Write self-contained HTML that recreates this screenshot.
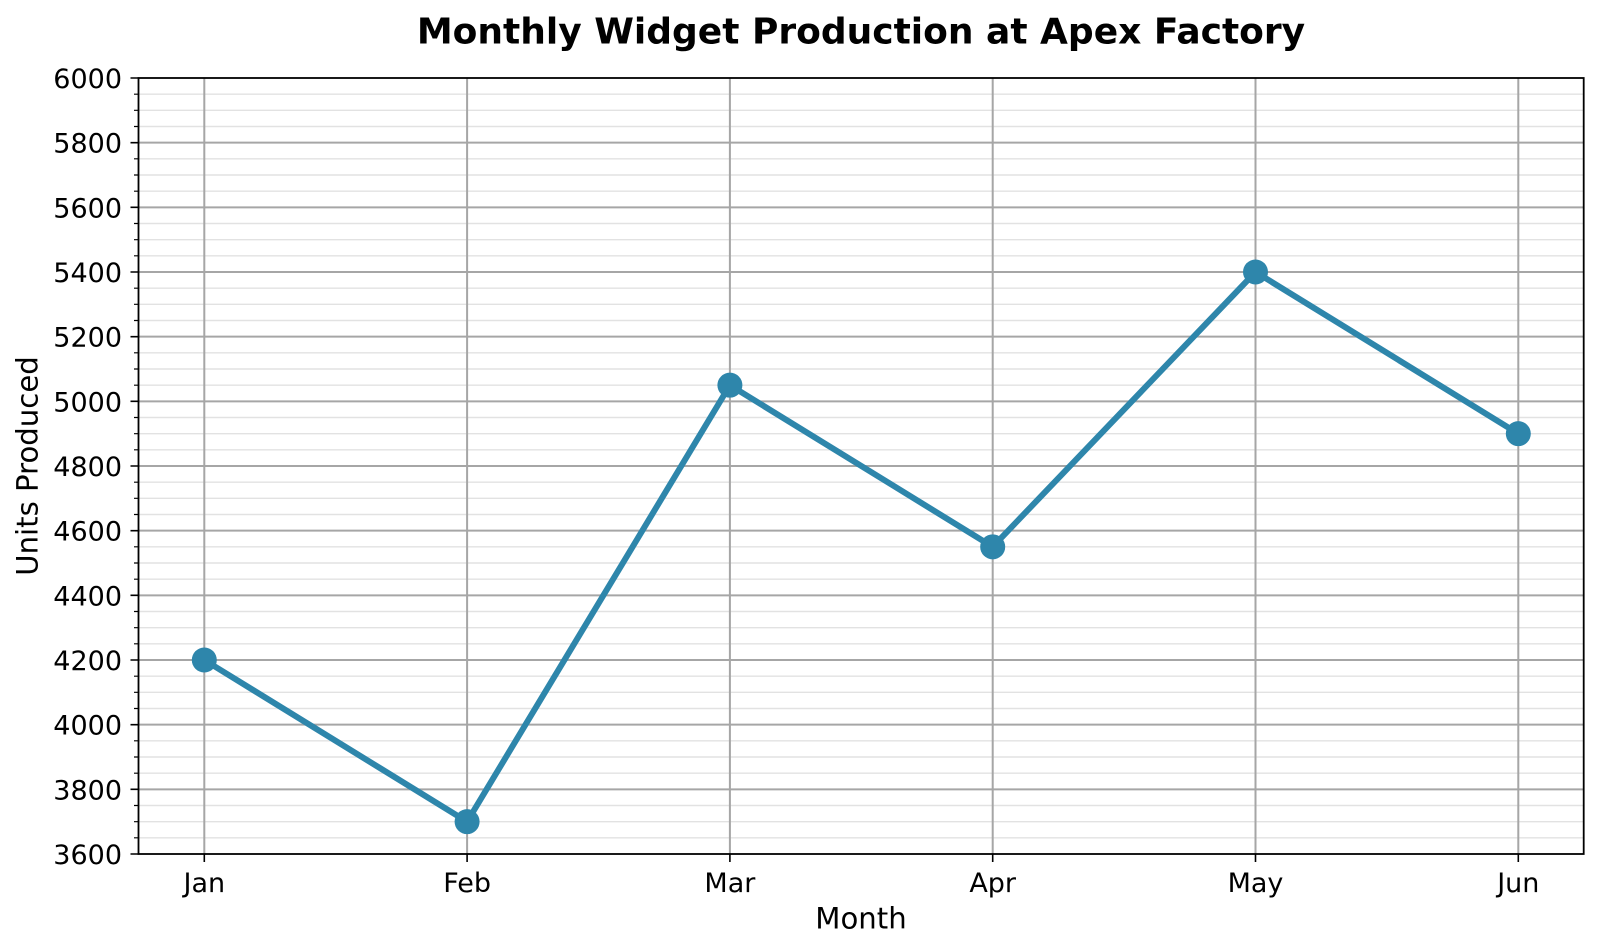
<!DOCTYPE html>
<html><head><meta charset="utf-8"><style>
html,body{margin:0;padding:0;background:#fff;}
svg{display:block;font-family:"DejaVu Sans","Liberation Sans",sans-serif;}
</style></head><body>
<svg width="1600" height="950" viewBox="0 0 1600 950" xmlns="http://www.w3.org/2000/svg">
<rect width="1600" height="950" fill="#fff"/>
<!-- minor grid -->
<path fill="none" stroke="#e2e2e2" stroke-width="1.4" d="M138.5 837.83H1583.7M138.5 821.67H1583.7M138.5 805.5H1583.7M138.5 773.17H1583.7M138.5 757H1583.7M138.5 740.83H1583.7M138.5 708.5H1583.7M138.5 692.33H1583.7M138.5 676.17H1583.7M138.5 643.83H1583.7M138.5 627.67H1583.7M138.5 611.5H1583.7M138.5 579.17H1583.7M138.5 563H1583.7M138.5 546.83H1583.7M138.5 514.5H1583.7M138.5 498.33H1583.7M138.5 482.17H1583.7M138.5 449.83H1583.7M138.5 433.67H1583.7M138.5 417.5H1583.7M138.5 385.17H1583.7M138.5 369H1583.7M138.5 352.83H1583.7M138.5 320.5H1583.7M138.5 304.33H1583.7M138.5 288.17H1583.7M138.5 255.83H1583.7M138.5 239.67H1583.7M138.5 223.5H1583.7M138.5 191.17H1583.7M138.5 175H1583.7M138.5 158.83H1583.7M138.5 126.5H1583.7M138.5 110.33H1583.7M138.5 94.17H1583.7"/>
<!-- major grid -->
<path fill="none" stroke="#a6a6a6" stroke-width="2" d="M138.5 789.33H1583.7M138.5 724.67H1583.7M138.5 660H1583.7M138.5 595.33H1583.7M138.5 530.67H1583.7M138.5 466H1583.7M138.5 401.33H1583.7M138.5 336.67H1583.7M138.5 272H1583.7M138.5 207.33H1583.7M138.5 142.67H1583.7M204.3 78V854M467.1 78V854M729.9 78V854M992.7 78V854M1255.5 78V854M1518.3 78V854"/>
<!-- data line -->
<polyline fill="none" stroke="#2E86AB" stroke-width="6" stroke-linejoin="round" stroke-linecap="round" points="204.3,660 467.1,821.67 729.9,385.17 992.7,546.83 1255.5,272 1518.3,433.67"/>
<g fill="#2E86AB">
<circle cx="204.3" cy="660" r="12.5"/>
<circle cx="467.1" cy="821.67" r="12.5"/>
<circle cx="729.9" cy="385.17" r="12.5"/>
<circle cx="992.7" cy="546.83" r="12.5"/>
<circle cx="1255.5" cy="272" r="12.5"/>
<circle cx="1518.3" cy="433.67" r="12.5"/>
</g>
<!-- spines -->
<rect x="138.5" y="78" width="1445.2" height="776" fill="none" stroke="#000" stroke-width="1.8"/>
<!-- ticks -->
<path fill="none" stroke="#000" stroke-width="1.6" d="M130.5 854H138.5M130.5 789.33H138.5M130.5 724.67H138.5M130.5 660H138.5M130.5 595.33H138.5M130.5 530.67H138.5M130.5 466H138.5M130.5 401.33H138.5M130.5 336.67H138.5M130.5 272H138.5M130.5 207.33H138.5M130.5 142.67H138.5M130.5 78H138.5M204.3 854V862M467.1 854V862M729.9 854V862M992.7 854V862M1255.5 854V862M1518.3 854V862"/>
<path fill="none" stroke="#000" stroke-width="1.2" d="M134 837.83H138.5M134 821.67H138.5M134 805.5H138.5M134 773.17H138.5M134 757H138.5M134 740.83H138.5M134 708.5H138.5M134 692.33H138.5M134 676.17H138.5M134 643.83H138.5M134 627.67H138.5M134 611.5H138.5M134 579.17H138.5M134 563H138.5M134 546.83H138.5M134 514.5H138.5M134 498.33H138.5M134 482.17H138.5M134 449.83H138.5M134 433.67H138.5M134 417.5H138.5M134 385.17H138.5M134 369H138.5M134 352.83H138.5M134 320.5H138.5M134 304.33H138.5M134 288.17H138.5M134 255.83H138.5M134 239.67H138.5M134 223.5H138.5M134 191.17H138.5M134 175H138.5M134 158.83H138.5M134 126.5H138.5M134 110.33H138.5M134 94.17H138.5"/>
<!-- y tick labels -->
<g font-size="27" text-anchor="end" fill="#000">
<text x="122" y="864">3600</text>
<text x="122" y="799.33">3800</text>
<text x="122" y="734.67">4000</text>
<text x="122" y="670">4200</text>
<text x="122" y="605.33">4400</text>
<text x="122" y="540.67">4600</text>
<text x="122" y="476">4800</text>
<text x="122" y="411.33">5000</text>
<text x="122" y="346.67">5200</text>
<text x="122" y="282">5400</text>
<text x="122" y="217.33">5600</text>
<text x="122" y="152.67">5800</text>
<text x="122" y="88">6000</text>
</g>
<!-- x tick labels -->
<g font-size="27" text-anchor="middle" fill="#000">
<text x="204.3" y="892">Jan</text>
<text x="467.1" y="892">Feb</text>
<text x="729.9" y="892">Mar</text>
<text x="992.7" y="892">Apr</text>
<text x="1255.5" y="892">May</text>
<text x="1518.3" y="892">Jun</text>
</g>
<text x="861" y="928.3" font-size="29.17" text-anchor="middle" fill="#000">Month</text>
<text transform="translate(37.5,466) rotate(-90)" x="0" y="0" font-size="29.17" text-anchor="middle" fill="#000">Units Produced</text>
<text x="861" y="43.5" font-size="36" font-weight="bold" text-anchor="middle" fill="#000">Monthly Widget Production at Apex Factory</text>
</svg>
</body></html>
